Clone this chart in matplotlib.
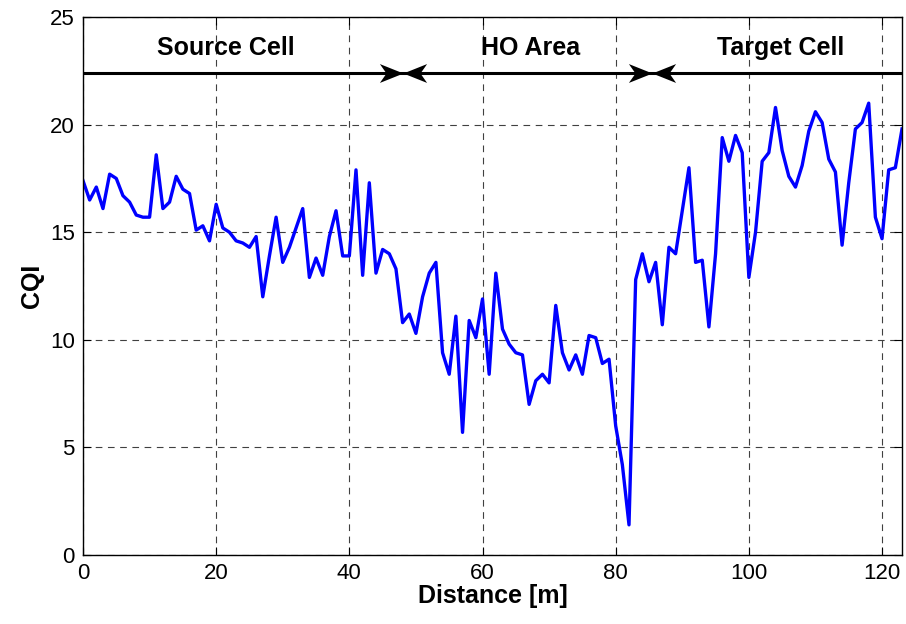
import matplotlib
matplotlib.use('Agg')
import matplotlib.pyplot as plt
from matplotlib.path import Path
import numpy as np

plt.rcParams['font.family'] = ['Liberation Sans', 'DejaVu Sans']

# odleglosc [m] i odczytane wartosci CQI
distance = np.arange(0, 124)
cqi = [17.4, 16.5, 17.1, 16.1, 17.7, 17.5, 16.7, 16.4, 15.8, 15.7,
       15.7, 18.6, 16.1, 16.4, 17.6, 17.0, 16.8, 15.1, 15.3, 14.6,
       16.3, 15.2, 15.0, 14.6, 14.5, 14.3, 14.8, 12.0, 13.9, 15.7,
       13.6, 14.3, 15.2, 16.1, 12.9, 13.8, 13.0, 14.8, 16.0, 13.9,
       13.9, 17.9, 13.0, 17.3, 13.1, 14.2, 14.0, 13.3, 10.8, 11.2,
       10.3, 12.0, 13.1, 13.6, 9.4, 8.4, 11.1, 5.7, 10.9, 10.1,
       11.9, 8.4, 13.1, 10.5, 9.8, 9.4, 9.3, 7.0, 8.1, 8.4,
       8.0, 11.6, 9.4, 8.6, 9.3, 8.4, 10.2, 10.1, 8.9, 9.1,
       6.0, 4.2, 1.4, 12.8, 14.0, 12.7, 13.6, 10.7, 14.3, 14.0,
       16.0, 18.0, 13.6, 13.7, 10.6, 14.0, 19.4, 18.3, 19.5, 18.7,
       12.9, 15.0, 18.3, 18.7, 20.8, 18.8, 17.6, 17.1, 18.1, 19.7,
       20.6, 20.1, 18.4, 17.8, 14.4, 17.3, 19.8, 20.1, 21.0, 15.7,
       14.7, 17.9, 18.0, 19.8]

region_names = ['Source Cell', 'HO Area', 'Target Cell']
region_bounds = [0, 48, 85.5, 123]
label_x = [21.4, 67.2, 104.8]

fig = plt.figure(figsize=(9.06, 6.24), dpi=100)
ax = fig.add_axes([0.0916, 0.1106, 0.904, 0.862])

ax.plot(distance, cqi, color=(0, 0, 1), linewidth=2.4)

# strzalki obszarow (groty z wcieciem jak w matlabie)
y_arr = 22.4
head_r = Path([(0, 0), (-1, 0.4), (-0.72, 0), (-1, -0.4), (0, 0)],
              [Path.MOVETO, Path.LINETO, Path.LINETO, Path.LINETO, Path.CLOSEPOLY])
head_l = Path([(0, 0), (1, 0.4), (0.72, 0), (1, -0.4), (0, 0)],
              [Path.MOVETO, Path.LINETO, Path.LINETO, Path.LINETO, Path.CLOSEPOLY])
ax.plot([region_bounds[0], region_bounds[3]], [y_arr, y_arr], color='k', lw=2.2)
ax.plot([region_bounds[1], region_bounds[2]], [y_arr, y_arr], linestyle='none',
        marker=head_r, markersize=34, color='k', markeredgewidth=0)
ax.plot([region_bounds[1], region_bounds[2]], [y_arr, y_arr], linestyle='none',
        marker=head_l, markersize=34, color='k', markeredgewidth=0)

for name, lx in zip(region_names, label_x):
    ax.text(lx, 23.55, name, ha='center', va='center', fontsize=18, fontweight='bold')

ax.set_xlim([0, 123])
ax.set_ylim([0, 25])
ax.set_xticks(np.arange(0, 121, 20))
ax.set_yticks(np.arange(0, 26, 5))
ax.tick_params(direction='in', top=True, right=True, labelsize=16, length=6, pad=6)
ax.grid(True, color='0.25', linestyle=(0, (6, 5)), linewidth=0.8)
ax.set_xlabel('Distance [m]', fontsize=18, fontweight='bold', labelpad=0)
ax.set_ylabel('CQI', fontsize=18, fontweight='bold', labelpad=4)
for s in ax.spines.values():
    s.set_linewidth(1)

fig.savefig('out.png', dpi=100)
